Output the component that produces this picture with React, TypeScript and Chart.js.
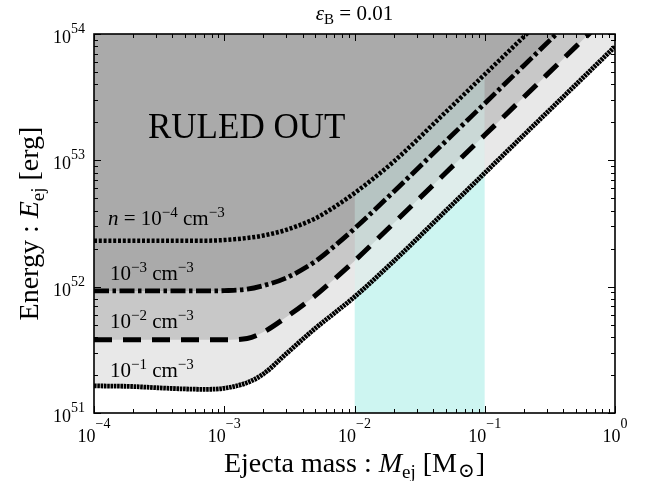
import React, { useEffect, useRef } from 'react';
import { Chart, registerables } from 'chart.js';

Chart.register(...registerables);

// Ejecta mass grid [M_sun]
const massMsun = [1e-4, 2e-4, 3e-4, 5e-4, 7e-4, 1e-3, 1.5e-3, 2e-3, 3e-3, 5e-3, 7e-3, 1e-2, 2e-2, 5e-2, 1e-1, 2e-1, 5e-1, 1];
// Minimum ejecta energy [erg] for each ambient density
const energyN1e4 = [2.31e52, 2.31e52, 2.31e52, 2.31e52, 2.31e52, 2.34e52, 2.43e52, 2.54e52, 2.82e52, 3.47e52, 4.27e52, 5.5e52, 9.77e52, 2.4e53, 4.79e53, 9.55e53, 2.4e54, 4.79e54];
const energyN1e3 = [9.25e51, 9.25e51, 9.25e51, 9.25e51, 9.25e51, 9.3e51, 9.55e51, 1.02e52, 1.175e52, 1.585e52, 2.09e52, 2.88e52, 5.65e52, 1.41e53, 2.82e53, 5.64e53, 1.41e54, 2.82e54];
const energyN1e2 = [3.8e51, 3.8e51, 3.8e51, 3.8e51, 3.8e51, 3.8e51, 3.89e51, 4.37e51, 5.75e51, 8.51e51, 1.148e52, 1.6e52, 3.18e52, 7.94e52, 1.585e53, 3.17e53, 7.94e53, 1.585e54];
const energyN1e1 = [1.64e51, 1.62e51, 1.585e51, 1.55e51, 1.54e51, 1.57e51, 1.74e51, 2.04e51, 2.95e51, 4.68e51, 6.17e51, 8.3e51, 1.59e52, 3.97e52, 7.94e52, 1.59e53, 3.97e53, 7.94e53];
// Shaded mass band
const bandMass = [1e-2, 1e-1];
const bandTop = 1e54;
// Axis ranges and tick exponents
const xMin = 1e-4, xMax = 1;
const yMin = 1e51, yMax = 1e54;
const xTickExps = [-4, -3, -2, -1, 0];
const yTickExps = [51, 52, 53, 54];
// Density label exponents
const densityExps = ['−4', '−3', '−2', '−1'];
const titleText = ' = 0.01';
const ruledOutText = 'RULED OUT';

const SERIF = '"Liberation Serif", "Times New Roman", serif';

type Run = { t: string; font: string; dy?: number; dx?: number };

function runsWidth(ctx: CanvasRenderingContext2D, runs: Run[]) {
  let w = 0;
  for (const r of runs) {
    ctx.font = r.font;
    w += ctx.measureText(r.t).width + (r.dx || 0);
  }
  return w;
}

function drawRuns(ctx: CanvasRenderingContext2D, runs: Run[], x: number, y: number, align: 'left' | 'center' | 'right') {
  const w = runsWidth(ctx, runs);
  let cx = align === 'center' ? x - w / 2 : align === 'right' ? x - w : x;
  ctx.textAlign = 'left';
  ctx.textBaseline = 'alphabetic';
  for (const r of runs) {
    ctx.font = r.font;
    cx += r.dx || 0;
    ctx.fillText(r.t, cx, y + (r.dy || 0));
    cx += ctx.measureText(r.t).width;
  }
}

const decoPlugin = {
  id: 'deco',
  afterDraw(chart: any) {
    const { ctx, chartArea: a } = chart;
    const xs = chart.scales.x;
    const ys = chart.scales.y;
    ctx.save();
    ctx.strokeStyle = '#000';
    ctx.fillStyle = '#000';
    ctx.lineWidth = 1;
    const seg = (x1: number, y1: number, x2: number, y2: number) => {
      ctx.beginPath();
      ctx.moveTo(x1, y1);
      ctx.lineTo(x2, y2);
      ctx.stroke();
    };
    // x ticks (inward, bottom and top)
    for (let e = xTickExps[0]; e <= xTickExps[xTickExps.length - 1]; e++) {
      for (let m = 1; m <= 9; m++) {
        const v = m * Math.pow(10, e);
        if (v > xMax * 1.0001) break;
        const px = Math.round(xs.getPixelForValue(v)) + 0.5;
        const len = m === 1 ? 7 : 4;
        seg(px, a.bottom, px, a.bottom - len);
        seg(px, a.top, px, a.top + len);
      }
    }
    // y ticks (inward, left and right)
    for (let e = yTickExps[0]; e <= yTickExps[yTickExps.length - 1]; e++) {
      for (let m = 1; m <= 9; m++) {
        const v = m * Math.pow(10, e);
        if (v > yMax * 1.0001) break;
        const py = Math.round(ys.getPixelForValue(v)) + 0.5;
        const len = m === 1 ? 7 : 4;
        seg(a.left, py, a.left + len, py);
        seg(a.right, py, a.right - len, py);
      }
    }
    // frame
    ctx.lineWidth = 1.6;
    ctx.strokeRect(a.left, a.top, a.right - a.left, a.bottom - a.top);

    // x tick labels
    for (const e of xTickExps) {
      const px = xs.getPixelForValue(Math.pow(10, e));
      const ex = e < 0 ? '−' + Math.abs(e) : String(e);
      drawRuns(ctx, [
        { t: '10', font: `18px ${SERIF}` },
        { t: ex, font: `14px ${SERIF}`, dy: -14 },
      ], px, a.bottom + 29, 'center');
    }
    // y tick labels
    for (const e of yTickExps) {
      const py = ys.getPixelForValue(Math.pow(10, e));
      drawRuns(ctx, [
        { t: '10', font: `18px ${SERIF}` },
        { t: String(e), font: `14px ${SERIF}`, dy: -10 },
      ], a.left - 9, py + 9, 'right');
    }

    const cxMid = (a.left + a.right) / 2;
    // title
    drawRuns(ctx, [
      { t: 'ε', font: `italic 21px ${SERIF}` },
      { t: 'B', font: `15px ${SERIF}`, dy: 4 },
      { t: titleText, font: `21px ${SERIF}` },
    ], cxMid, 20, 'center');

    // x axis title
    drawRuns(ctx, [
      { t: 'Ejecta mass : ', font: `28px ${SERIF}` },
      { t: 'M', font: `italic 28px ${SERIF}` },
      { t: 'ej', font: `19px ${SERIF}`, dy: 6 },
      { t: ' [M', font: `28px ${SERIF}` },
      { t: '⊙', font: `20px "DejaVu Serif", ${SERIF}`, dy: 5, dx: 1 },
      { t: ']', font: `28px ${SERIF}`, dx: 1 },
    ], cxMid, 472, 'center');

    // y axis title
    ctx.save();
    ctx.translate(38, (a.top + a.bottom) / 2);
    ctx.rotate(-Math.PI / 2);
    drawRuns(ctx, [
      { t: 'Energy : ', font: `28px ${SERIF}` },
      { t: 'E', font: `italic 28px ${SERIF}` },
      { t: 'ej', font: `19px ${SERIF}`, dy: 6 },
      { t: ' [erg]', font: `28px ${SERIF}` },
    ], 0, 0, 'center');
    ctx.restore();

    // RULED OUT
    drawRuns(ctx, [{ t: ruledOutText, font: `35px ${SERIF}` }], 148, 138, 'left');

    // density labels
    const baselines = [225, 280, 328, 377];
    densityExps.forEach((ex, i) => {
      const runs: Run[] = [];
      if (i === 0) {
        runs.push({ t: 'n', font: `italic 21px ${SERIF}` });
        runs.push({ t: ' = ', font: `21px ${SERIF}` });
      }
      runs.push({ t: '10', font: `21px ${SERIF}` });
      runs.push({ t: ex, font: `15px ${SERIF}`, dy: -8 });
      runs.push({ t: ' cm', font: `21px ${SERIF}` });
      runs.push({ t: '−3', font: `15px ${SERIF}`, dy: -8 });
      drawRuns(ctx, runs, i === 0 ? 108 : 110, baselines[i], 'left');
    });
    ctx.restore();
  },
};

export default function App() {
  const canvasRef = useRef<HTMLCanvasElement | null>(null);

  useEffect(() => {
    if (!canvasRef.current) return;
    const pts = (ys: number[]) => massMsun.map((m, i) => ({ x: m, y: ys[i] }));
    const band = () => bandMass.map((m) => ({ x: m, y: bandTop }));
    const common = {
      pointRadius: 0,
      pointHoverRadius: 0,
      borderColor: '#000',
      cubicInterpolationMode: 'monotone' as const,
      borderCapStyle: 'butt' as const,
      borderJoinStyle: 'round' as const,
    };
    const chart = new Chart(canvasRef.current, {
      type: 'line',
      data: {
        datasets: [
          { ...common, label: 'n=1e-4', data: pts(energyN1e4), borderWidth: 4.5, borderDash: [3, 1.8], fill: 'end', backgroundColor: '#aaaaaa' },
          { label: 'band tint', data: band(), borderWidth: 0, borderColor: 'rgba(0,0,0,0)', pointRadius: 0, fill: 'start', backgroundColor: 'rgba(205,245,242,0.35)' },
          { ...common, label: 'n=1e-3', data: pts(energyN1e3), borderWidth: 4.8, borderDash: [15, 3.5, 3.5, 3.5], fill: 'end', backgroundColor: '#aaaaaa' },
          { ...common, label: 'n=1e-2', data: pts(energyN1e2), borderWidth: 5, borderDash: [18, 11], fill: 'end', backgroundColor: '#c8c8c8' },
          { ...common, label: 'n=1e-1', data: pts(energyN1e1), borderWidth: 4.8, borderDash: [2.6, 0.7], fill: 'end', backgroundColor: '#e8e8e8' },
          { label: 'band', data: band(), borderWidth: 0, borderColor: 'rgba(0,0,0,0)', pointRadius: 0, fill: 'start', backgroundColor: '#cdf5f2' },
        ] as any,
      },
      options: {
        responsive: false,
        animation: false,
        devicePixelRatio: 1,
        layout: { padding: { left: 94, right: 36, top: 34, bottom: 68 } },
        scales: {
          x: { type: 'logarithmic', min: xMin, max: xMax, display: false },
          y: { type: 'logarithmic', min: yMin, max: yMax, display: false },
        },
        plugins: {
          legend: { display: false },
          tooltip: { enabled: false },
          filler: { drawTime: 'beforeDatasetsDraw', propagate: false },
        },
        events: [],
      } as any,
      plugins: [decoPlugin],
    });
    return () => chart.destroy();
  }, []);

  return (
    <div style={{ position: 'fixed', left: 0, top: 0, width: 651, height: 481, background: '#fff' }}>
      <canvas ref={canvasRef} width={651} height={481} style={{ display: 'block' }} />
    </div>
  );
}
